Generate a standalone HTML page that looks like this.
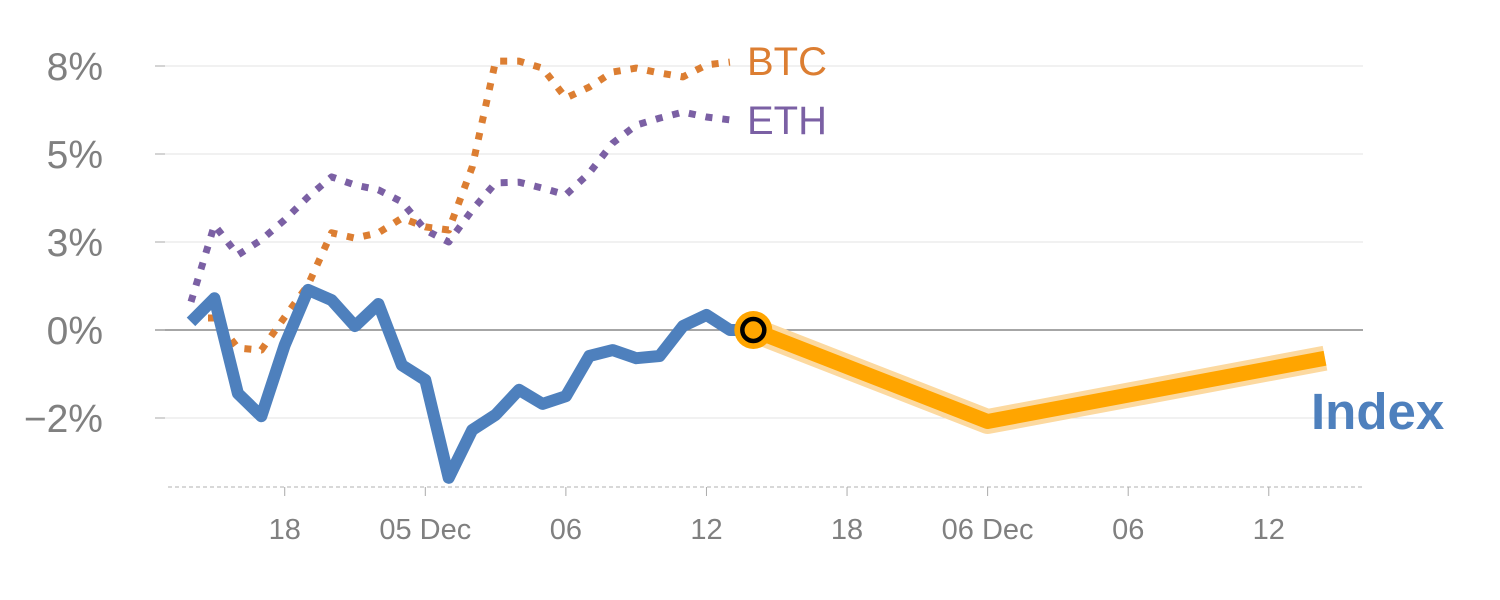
<!DOCTYPE html>
<html><head><meta charset="utf-8"><style>
html,body{margin:0;padding:0;background:#fff;}
svg{display:block;font-family:"Liberation Sans",Arial,sans-serif;}
</style></head><body>
<svg id="chart" width="1500" height="600"></svg>
<script>
const yTicks=[-2.5,0,2.5,5,7.5];
const yTickLabels=["−2%","0%","3%","5%","8%"];
const xTickIdx=[4,10,16,22,28,34,40,46];
const xTickLabels=["18","05 Dec","06","12","18","06 Dec","06","12"];
const indexVals=[0.23,0.9,-1.8,-2.45,-0.43,1.14,0.85,0.11,0.74,-1.0,-1.42,-4.2,-2.84,-2.41,-1.7,-2.1,-1.88,-0.74,-0.57,-0.8,-0.74,0.11,0.43,0,0];
const btcVals=[0.34,0.34,-0.51,-0.57,0.37,1.28,2.76,2.61,2.76,3.18,2.93,2.84,4.63,7.64,7.64,7.44,6.59,6.9,7.33,7.44,7.3,7.19,7.53,7.61];
const ethVals=[0.8,2.98,2.13,2.56,3.13,3.78,4.35,4.12,3.98,3.64,2.84,2.5,3.41,4.18,4.2,4.03,3.84,4.46,5.31,5.82,6.02,6.19,6.05,5.97];
const fcIdx=[24,34,48.4];
const fcVals=[0,-2.6,-0.8];

const NS="http://www.w3.org/2000/svg";
const svg=document.getElementById('chart');
const X=i=>191+23.43*i;
const Y=v=>330-35.2*v;
function mk(tag,attrs,parent){const e=document.createElementNS(NS,tag);for(const k in attrs)e.setAttribute(k,attrs[k]);(parent||svg).appendChild(e);return e;}
function pts(idx,vals){return vals.map((v,i)=>X(idx?idx[i]:i).toFixed(1)+","+Y(v).toFixed(1)).join(" ");}

yTicks.forEach((t,i)=>{
  const g=mk('line',{x1:155,x2:1363,y1:Y(t),y2:Y(t),stroke:t===0?'#888':'#e3e3e3','stroke-width':t===0?1.5:1});
  
  
  const tk=mk('line',{x1:155,x2:165,y1:Y(t),y2:Y(t),stroke:'#aaa','stroke-width':1});
  
  
  const tx=mk('text',{x:103,y:Y(t)+14,'text-anchor':'end','font-size':39,fill:'#808080'});
  tx.textContent=yTickLabels[i];
  
  
});
const ax=mk('line',{x1:168,x2:1365,y1:487,y2:487,stroke:'#ccc','stroke-width':1.5,'stroke-dasharray':'4,3'});


xTickIdx.forEach((ti,i)=>{
  const tk=mk('line',{x1:X(ti),x2:X(ti),y1:487,y2:496,stroke:'#aaa','stroke-width':1});
  
  
  const tx=mk('text',{x:X(ti),y:539,'text-anchor':'middle','font-size':29,fill:'#808080'});
  tx.textContent=xTickLabels[i];
  
  
});
const eth=mk('polyline',{points:pts(null,ethVals),fill:'none',stroke:'#7b60a4','stroke-width':7,'stroke-dasharray':'7,10','stroke-linejoin':'round'});


const btc=mk('polyline',{points:pts(null,btcVals),fill:'none',stroke:'#dc7e32','stroke-width':7,'stroke-dasharray':'7,10','stroke-linejoin':'round'});


const idx=mk('polyline',{points:pts(null,indexVals),fill:'none',stroke:'#4e80bd','stroke-width':12,'stroke-linejoin':'round'});


const halo=mk('polyline',{points:pts(fcIdx,fcVals),fill:'none',stroke:'#fcd9a0','stroke-width':25,'stroke-linejoin':'round'});


const fc=mk('polyline',{points:pts(fcIdx,fcVals),fill:'none',stroke:'#ffa500','stroke-width':15,'stroke-linejoin':'round'});


const c1=mk('circle',{cx:X(fcIdx[0]),cy:Y(fcVals[0]),r:19,fill:'#ffa500'});


const c2=mk('circle',{cx:X(fcIdx[0]),cy:Y(fcVals[0]),r:11,fill:'#ffa500',stroke:'#000','stroke-width':4.5});


const lb=mk('text',{x:747,y:Y(btcVals[btcVals.length-1])+13,'font-size':40,fill:'#dc7e32'});
lb.textContent='BTC';


const le=mk('text',{x:747,y:Y(ethVals[ethVals.length-1])+14,'font-size':40,fill:'#7b60a4'});
le.textContent='ETH';


const li=mk('text',{x:1311,y:429,'font-size':51,'font-weight':'bold',fill:'#4e80bd'});
li.textContent='Index';


</script>
</body></html>
